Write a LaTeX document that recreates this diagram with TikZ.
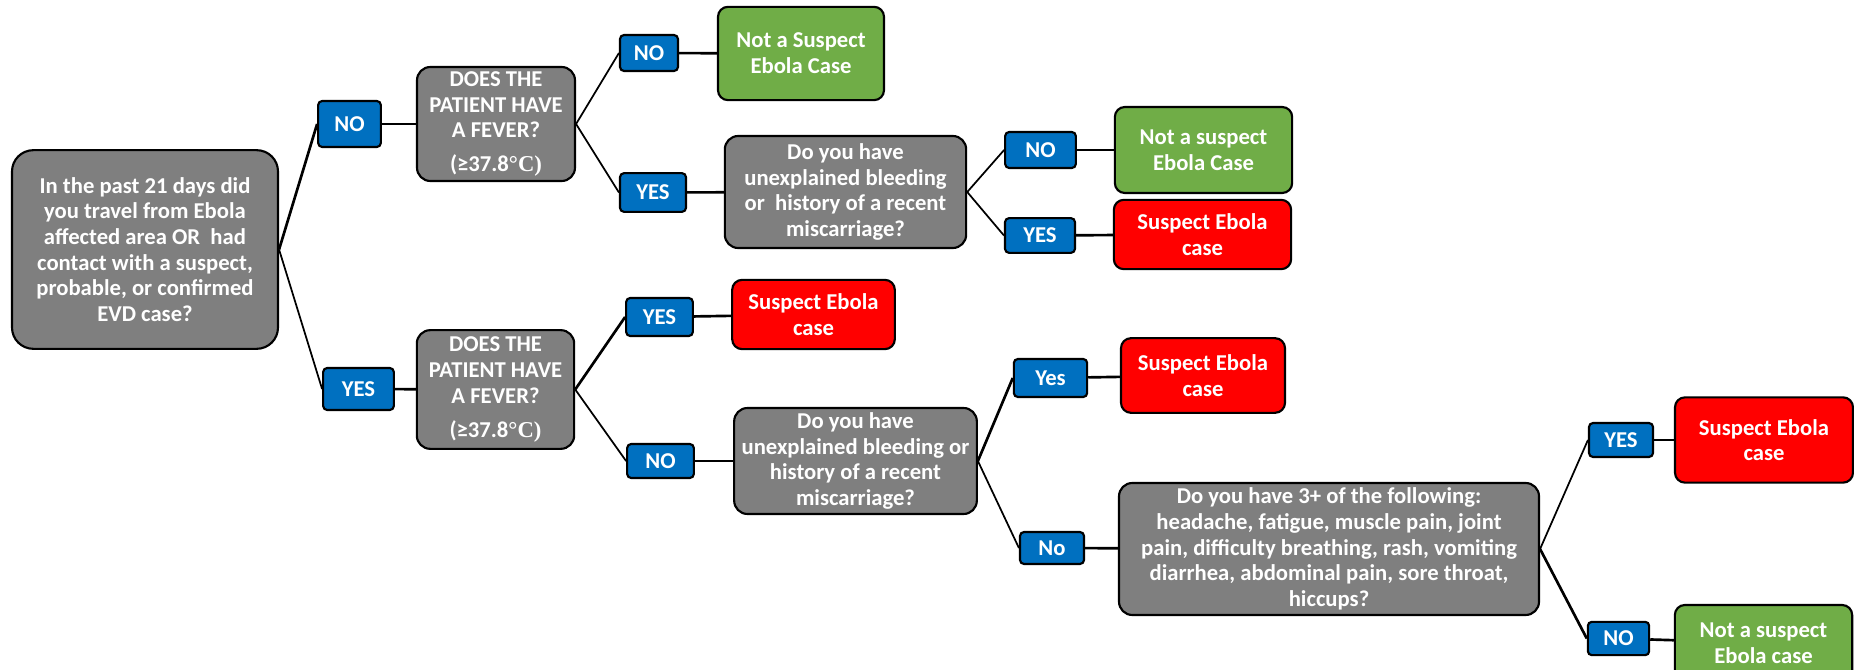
\documentclass[tikz,border=0pt]{standalone}
\usepackage{fontspec}
\setmainfont{Carlito}
\newfontfamily\degfont{Liberation Serif}

\definecolor{boxgray}{RGB}{127,127,127}
\definecolor{ansblue}{RGB}{0,112,192}
\definecolor{outgreen}{RGB}{112,173,71}
\definecolor{outred}{RGB}{255,0,0}

\tikzset{
  every node/.style={font=\fontsize{17}{19.3}\selectfont\bfseries, text=white, align=center, inner sep=0pt},
  qbox/.style={draw=black, line width=1.6pt, fill=boxgray, rounded corners=10pt},
  ans/.style={draw=black, line width=1.6pt, fill=ansblue, rounded corners=3pt},
  clearbox/.style={draw=black, line width=1.6pt, fill=outgreen, rounded corners=7.5pt},
  alertbox/.style={draw=black, line width=1.6pt, fill=outred, rounded corners=7.5pt},
  link/.style={line width=2pt},
  thinlink/.style={line width=1.3pt},
}

\begin{document}
\begin{tikzpicture}[x=0.75pt,y=0.75pt,yscale=-1,xscale=1]
\useasboundingbox (0,0) rectangle (1854,670);

% questions
\node[qbox, rounded corners=16pt, minimum width=199.5pt, minimum height=149pt] (travel) at (145,249.5)
  {In the past 21 days did\\you travel from Ebola\\affected area OR~ had\\contact with a suspect,\\probable, or confirmed\\EVD case?};
\node[qbox, minimum width=118.5pt, minimum height=85.5pt] (feverA) at (496,124)
  {DOES THE\\PATIENT HAVE\\A FEVER?\\[6pt](≥37.8{\degfont °C)}};
\node[qbox, minimum width=118pt, minimum height=89pt] (feverB) at (495.5,389.5)
  {DOES THE\\PATIENT HAVE\\A FEVER?\\[6pt](≥37.8{\degfont °C)}};
\node[qbox, minimum width=181pt, minimum height=84pt] (bleedA) at (845.5,192)
  {Do you have\\unexplained bleeding\\or~ history of a recent\\miscarriage?};
\node[qbox, minimum width=182pt, minimum height=79.5pt] (bleedB) at (855.5,461)
  {Do you have\\unexplained bleeding or\\history of a recent\\miscarriage?};
\node[qbox, minimum width=315pt, minimum height=99pt] (symptoms) at (1329,549)
  {Do you have 3+ of the following:\\headache, fatigue, muscle pain, joint\\pain, difficulty breathing, rash, vomiting\\diarrhea, abdominal pain, sore throat,\\hiccups?};

% answers
\node[ans, minimum width=47pt, minimum height=34.5pt] (noA) at (349.5,124) {NO};
\node[ans, minimum width=53pt, minimum height=31.5pt] (yesA) at (358.5,389) {YES};
\node[ans, minimum width=43.5pt, minimum height=27pt] (noB) at (649,53) {NO};
\node[ans, minimum width=49.5pt, minimum height=29pt] (yesB) at (653,192.5) {YES};
\node[ans, minimum width=53pt, minimum height=27pt] (noC) at (1040.5,150) {NO};
\node[ans, minimum width=52.5pt, minimum height=26pt] (yesC) at (1040,235.5) {YES};
\node[ans, minimum width=50pt, minimum height=28.5pt] (yesD) at (659.5,317) {YES};
\node[ans, minimum width=50pt, minimum height=25.5pt] (noD) at (660.5,461) {NO};
\node[ans, minimum width=55pt, minimum height=28.5pt] (yesE) at (1050.5,378) {Yes};
\node[ans, minimum width=48pt, minimum height=24pt] (noE) at (1052,548) {No};
\node[ans, minimum width=48pt, minimum height=25.5pt] (yesF) at (1621,440) {YES};
\node[ans, minimum width=46pt, minimum height=25pt] (noF) at (1618.5,638.5) {NO};

% outcomes
\node[clearbox, minimum width=124.5pt, minimum height=70pt] (notA) at (801,53.5) {Not a Suspect\\Ebola Case};
\node[clearbox, minimum width=133pt, minimum height=64.5pt] (notB) at (1203.5,150) {Not a suspect\\Ebola Case};
\node[alertbox, minimum width=133pt, minimum height=52pt] (suspA) at (1202.5,234.5) {Suspect Ebola\\case};
\node[alertbox, minimum width=122pt, minimum height=52pt] (suspB) at (813.5,314.5) {Suspect Ebola\\case};
\node[alertbox, minimum width=123pt, minimum height=56pt] (suspC) at (1203,375.5) {Suspect Ebola\\case};
\node[alertbox, minimum width=133.5pt, minimum height=64pt] (suspD) at (1764,440) {Suspect Ebola\\case};
\node[clearbox, minimum width=133pt, minimum height=57pt] (notC) at (1763.5,643) {Not a suspect\\Ebola case};

% connectors
\draw[link] (travel.east) -- (noA.west);
\draw[thinlink] (travel.east) -- (yesA.west);
\draw[link] (noA) -- (feverA);
\draw[link] (yesA) -- (feverB);
\draw[thinlink] (feverA.east) -- (noB.west);
\draw[thinlink] (feverA.east) -- (yesB.west);
\draw[link] (noB) -- (notA);
\draw[link] (yesB) -- (bleedA);
\draw[thinlink] (bleedA.east) -- (noC.west);
\draw[thinlink] (bleedA.east) -- (yesC.west);
\draw[link] (noC) -- (notB);
\draw[link] (yesC) -- (suspA);
\draw[link] (feverB.east) -- (yesD.west);
\draw[thinlink] (feverB.east) -- (noD.west);
\draw[link] (yesD) -- (suspB);
\draw[link] (noD) -- (bleedB);
\draw[link] (bleedB.east) -- (yesE.west);
\draw[thinlink] (bleedB.east) -- (noE.west);
\draw[link] (yesE) -- (suspC);
\draw[link] (noE) -- (symptoms);
\draw[thinlink] (symptoms.east) -- (yesF.west);
\draw[link] (symptoms.east) -- (noF.west);
\draw[link] (yesF) -- (suspD);
\draw[link] (noF) -- (notC);

\end{tikzpicture}
\end{document}
